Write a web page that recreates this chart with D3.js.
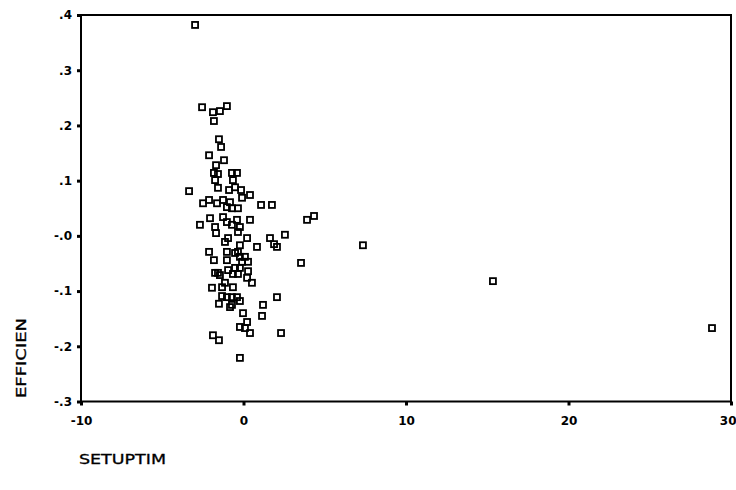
<!DOCTYPE html>
<html>
<head>
<meta charset="utf-8">
<script src="https://cdn.jsdelivr.net/npm/d3@7/dist/d3.min.js"></script>
<style>
    body { margin: 0; background: #fff; }
    svg { display: block; }
    .tick-label { font-family: "DejaVu Sans", Verdana, sans-serif; font-weight: bold; font-size: 12px; fill: #000; }
    .axis-title { font-family: "DejaVu Sans", Verdana, sans-serif; font-size: 14px; fill: #000; stroke: #000; stroke-width: 0.3px; }
</style>
</head>
<body>
<div id="chart"></div>
<script>

//Values: SETUPTIM (x) and EFFICIEN (y)
var setuptim = [-2.98, -2.55, -1.88, -1.45, -1.02, -1.82, -1.51, -1.38, -2.12, -1.20,
                -1.69, -1.82, -1.57, -0.71, -0.40, -1.75, -0.65, -3.35, -1.57, -0.89,
                -0.52, -0.15, 0.40, -2.49, -2.12, -1.63, -1.26, -0.83, -0.09, 1.08,
                1.75, -1.02, -0.71, -0.34, 3.91, 4.34, -2.68, -2.06, -1.75, -1.26,
                -1.02, -0.71, -0.40, -0.22, 0.40, -1.69, -0.34, 0.22, -1.14, -0.95,
                -0.22, -0.34, 0.83, 1.63, 1.88, 2.06, 2.55, -2.12, -1.82, -1.02,
                -1.02, -0.52, -0.22, 0.09, 0.28, -0.09, 3.54, -1.75, -1.57, -1.45,
                -0.95, -0.52, -0.22, 0.28, -0.65, -0.34, 0.22, 0.52, -1.94, -1.32,
                -0.65, -1.14, -1.32, -1.02, -0.71, -0.40, -0.22, -1.51, -0.83, -0.71,
                2.06, -0.03, 1.20, 1.14, 0.22, -0.22, 0.09, 0.40, -1.88, -1.51,
                2.31, -0.22, 7.35, 15.35, 28.83];

var efficien = [0.382, 0.233, 0.224, 0.226, 0.235, 0.208, 0.175, 0.161, 0.146, 0.137,
                0.128, 0.114, 0.112, 0.114, 0.114, 0.101, 0.101, 0.081, 0.087, 0.083,
                0.088, 0.083, 0.074, 0.059, 0.065, 0.059, 0.065, 0.061, 0.069, 0.056,
                0.056, 0.052, 0.050, 0.050, 0.029, 0.036, 0.020, 0.032, 0.016, 0.034,
                0.025, 0.020, 0.029, 0.016, 0.029, 0.005, 0.007, -0.004, -0.011, -0.004,
                -0.017, -0.029, -0.020, -0.004, -0.015, -0.020, 0.002, -0.029, -0.044, -0.029,
                -0.044, -0.031, -0.038, -0.038, -0.047, -0.047, -0.049, -0.067, -0.067, -0.071,
                -0.062, -0.058, -0.058, -0.064, -0.069, -0.069, -0.076, -0.085, -0.094, -0.093,
                -0.093, -0.085, -0.109, -0.111, -0.111, -0.111, -0.118, -0.123, -0.129, -0.125,
                -0.111, -0.140, -0.125, -0.145, -0.156, -0.165, -0.167, -0.176, -0.180, -0.189,
                -0.176, -0.221, -0.017, -0.082, -0.167];

//Tick values and their printed labels
var xTicks = [-10, 0, 10, 20, 30];
var xTickLabels = ["-10", "0", "10", "20", "30"];
var yTicks = [0.4, 0.3, 0.2, 0.1, 0, -0.1, -0.2, -0.3];
var yTickLabels = [".4", ".3", ".2", ".1", "-.0", "-.1", "-.2", "-.3"];

var xTitle = "SETUPTIM";
var yTitle = "EFFICIEN";

var width = 736, height = 490;
var plot = {left: 81, right: 731, top: 15, bottom: 401.5};

var svg = d3.select("#chart")
            .append("svg")
            .attr("width", width)
            .attr("height", height);

var x = d3.scaleLinear().domain([-10, 30]).range([plot.left, plot.right]);
var y = d3.scaleLinear().domain([-0.3, 0.4]).range([plot.bottom, plot.top]);

//Frame round the plot
svg.append("rect")
   .attr("x", plot.left)
   .attr("y", plot.top)
   .attr("width", plot.right - plot.left)
   .attr("height", plot.bottom - plot.top)
   .attr("fill", "none")
   .attr("stroke", "#000")
   .attr("stroke-width", 2);

//Points: open squares
var points = setuptim.map(function(d, i) { return {x: d, y: efficien[i]}; });

svg.append("g")
   .selectAll("rect")
   .data(points)
   .enter()
   .append("rect")
   .attr("x", function(d) { return x(d.x) - 3; })
   .attr("y", function(d) { return y(d.y) - 3; })
   .attr("width", 6)
   .attr("height", 6)
   .attr("fill", "none")
   .attr("stroke", "#000")
   .attr("stroke-width", 1.8);

//Axes, drawn by d3 and then restyled to the picture's look
var xAxis = svg.append("g")
               .attr("transform", "translate(0," + plot.bottom + ")")
               .call(d3.axisBottom(x)
                       .tickValues(xTicks)
                       .tickSize(4)
                       .tickPadding(11)
                       .tickFormat(function(d, i) { return xTickLabels[i]; }));

var yAxis = svg.append("g")
               .attr("transform", "translate(" + plot.left + ",0)")
               .call(d3.axisLeft(y)
                       .tickValues(yTicks)
                       .tickSize(4)
                       .tickPadding(5)
                       .tickFormat(function(d, i) { return yTickLabels[i]; }));

[xAxis, yAxis].forEach(function(ax) {
    ax.select(".domain").remove();
    ax.selectAll(".tick line").attr("stroke", "#000").attr("stroke-width", 3);
    ax.selectAll(".tick text").attr("class", "tick-label").attr("font-family", null).attr("font-size", null);
});

//The last x label sits on the right edge of the picture, keep it inside
xAxis.selectAll(".tick text")
     .filter(function(d) { return d === 30; })
     .attr("text-anchor", "end")
     .attr("x", 5);

//Axis titles
svg.append("text")
   .attr("class", "axis-title")
   .attr("x", 79)
   .attr("y", 464)
   .attr("textLength", 87)
   .attr("lengthAdjust", "spacingAndGlyphs")
   .text(xTitle);

svg.append("text")
   .attr("class", "axis-title")
   .attr("transform", "translate(26,398) rotate(-90)")
   .attr("textLength", 80)
   .attr("lengthAdjust", "spacingAndGlyphs")
   .text(yTitle);

</script>
</body>
</html>
